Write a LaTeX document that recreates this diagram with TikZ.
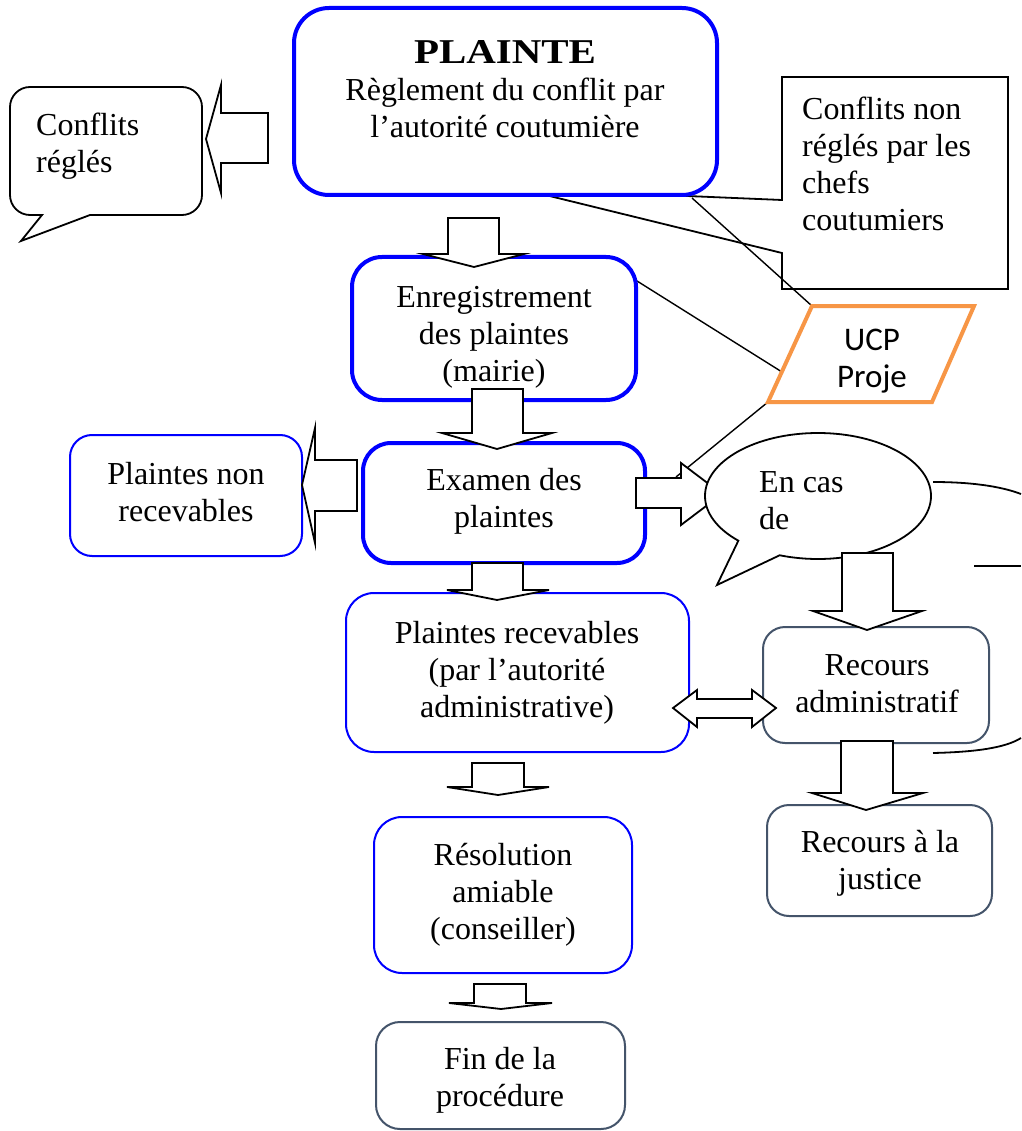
\documentclass[tikz,border=0pt]{standalone}
\usepackage{fontspec}
\setmainfont{Liberation Serif}
\newfontfamily\ucpfont{Carlito}
\usepackage{graphicx}
\usetikzlibrary{shapes.callouts}
\newcommand\mybody{\fontsize{32}{37}\selectfont}
\newcommand\myucp{\ucpfont\fontsize{33}{37}\selectfont}
\definecolor{boxblue}{RGB}{0,0,255}
\definecolor{slate}{RGB}{68,84,106}
\definecolor{ucporange}{RGB}{247,150,70}
\newcommand\vblockarrow[8]{\draw[blockarrow] (#1,#3) -- (#2,#3) -- (#2,#4) -- (#6,#4) -- (#7,#8) -- (#5,#4) -- (#1,#4) -- cycle;}
\newcommand\hblockarrow[8]{\draw[blockarrow] (#1,#2) -- (#4,#2) -- (#4,#5) -- (#7,#8) -- (#4,#6) -- (#4,#3) -- (#1,#3) -- cycle;}
\begin{document}
\begin{tikzpicture}[x=1pt,y=-1pt,
  thickblue/.style={draw=boxblue, line width=4pt, fill=white, rounded corners=#1, inner sep=0pt},
  thinblue/.style={draw=boxblue, line width=2pt, fill=white, rounded corners=#1, inner sep=0pt},
  slatebox/.style={draw=slate, line width=2pt, fill=white, rounded corners=#1, inner sep=0pt},
  blockarrow/.style={draw=black, line width=1.8pt, fill=white, line join=miter},
  plainline/.style={draw=black, line width=1.4pt},
  outline/.style={draw=black, line width=1.8pt},
  txt/.style={inner sep=0pt, anchor=north, align=center, font=\mybody},
  txtl/.style={inner sep=0pt, anchor=north west, align=left, font=\mybody}]
\useasboundingbox (0,0) rectangle (1021,1131);
\fill[white] (0,0) rectangle (1021,1131);

% callout "Conflits non reglés" (pointer tip hidden behind PLAINTE box)
\draw[outline, fill=white] (782,77) -- (1008,77) -- (1008,289) -- (782,289) -- (782,253) -- (521,189) -- (782,200) -- cycle;

% connector lines to UCP
\coordinate (ucpTL) at (812,306);
\coordinate (ucpTR) at (974,306);
\coordinate (ucpBR) at (932,402);
\coordinate (ucpBL) at (768,402);
\coordinate (ucpL) at (782,372);
\coordinate (plcorner) at (692,198);
\coordinate (enregR) at (637,281);
\coordinate (examR) at (676,477);
\draw[plainline] (plcorner) -- (ucpTL);
\draw[plainline] (enregR) -- (ucpL);
\draw[plainline] (ucpBL) -- (examR);
\draw[draw=ucporange, line width=4pt, fill=white, line join=miter] (ucpTL) -- (ucpTR) -- (ucpBR) -- (ucpBL) -- cycle;

% boxes
\node[thickblue=35pt, minimum width=423pt, minimum height=187pt] (plainte) at (505.5,101.5) {};
\node[thickblue=30pt, minimum width=284pt, minimum height=143pt] (enreg) at (494,328.5) {};
\node[thickblue=28pt, minimum width=282pt, minimum height=120pt] (examen) at (504,503) {};
\node[thinblue=22pt, minimum width=232pt, minimum height=121pt] (nonrec) at (186,495.5) {};
\node[thinblue=28pt, minimum width=343pt, minimum height=159pt] (plrec) at (517.5,672.5) {};
\node[thinblue=28pt, minimum width=258pt, minimum height=156pt] (resol) at (503,895) {};
\node[slatebox=24pt, minimum width=249pt, minimum height=107pt] (fin) at (500.5,1075.5) {};
\node[slatebox=22pt, minimum width=226pt, minimum height=116pt] (recadm) at (876,685) {};
\node[slatebox=22pt, minimum width=225pt, minimum height=111pt] (justice) at (879.5,860.5) {};

% callout "Conflits reglés"
\draw[outline, fill=white] (42,215) -- (21,241) -- (90,215) -- (182,215)
  .. controls (193,215) and (202,206) .. (202,195) -- (202,107)
  .. controls (202,96) and (193,87) .. (182,87) -- (30,87)
  .. controls (19,87) and (10,96) .. (10,107) -- (10,195)
  .. controls (10,206) and (19,215) .. (30,215) -- cycle;

% block arrows
\vblockarrow{448}{499}{218}{254}{423}{524}{474}{267}
\vblockarrow{472}{523}{389}{433}{442}{552}{497}{449}
\vblockarrow{472}{523}{563}{590}{447}{549}{497}{600}
\vblockarrow{472}{524}{763}{787}{447}{549}{498}{795}
\vblockarrow{474}{526}{984}{1003}{449}{552}{501}{1009}
\vblockarrow{841}{893}{741}{793}{812}{923}{866}{810}
\hblockarrow{268}{113}{163}{221}{85}{193}{206}{139}
\hblockarrow{357}{460}{511}{315}{428}{543}{302}{485}
\hblockarrow{636}{478}{508}{681}{463}{525}{722}{494}
\draw[blockarrow] (673,708) -- (697,690) -- (697,699) -- (752,699) -- (752,690) -- (776,708)
  -- (752,727) -- (752,718) -- (697,718) -- (697,727) -- cycle;

% ellipse callout "En cas de"
\node[ellipse callout, outline, fill=white, inner sep=0pt, minimum width=226pt, minimum height=126pt,
  callout absolute pointer={(717,585)}, callout pointer arc=25] (encas) at (818,496) {};
\vblockarrow{842}{893}{553}{611}{813}{922}{867}{630}

% partial outlines at the right edge
\draw[outline] (933,482) .. controls (970,482) and (1000,486) .. (1021,494);
\draw[outline] (974,566) -- (1021,566);
\draw[outline] (933,753) .. controls (975,752) and (1005,748) .. (1021,738);

% texts
\node[txt] (plainte-t) at (505,37.6) {\strut\resizebox{182pt}{23pt}{\bfseries PLAINTE}\\Règlement du conflit par\\l’autorité coutumière};
\node[txtl] (regles-t) at (36,109.6) {\strut Conflits\\réglés};
\node[txtl] (nonregles-t) at (802,93.1) {\strut Conflits non\\réglés par les\\chefs\\coutumiers};
\node[txt] (enreg-t) at (494,281.1) {\strut Enregistrement\\des plaintes\\(mairie)};
\node[txt, font=\myucp] (ucp) at (872,324.1) {\strut UCP\\Proje};
\node[txt] (examen-t) at (504,464.6) {\strut Examen des\\plaintes};
\node[txt] (nonrec-t) at (186,458.6) {\strut Plaintes non\\recevables};
\node[txtl] (encas-t) at (759,466.1) {\strut En cas\\de};
\node[txt] (plrec-t) at (517,617.1) {\strut Plaintes recevables\\(par l’autorité\\administrative)};
\node[txt] (recadm-t) at (877,649.1) {\strut Recours\\administratif};
\node[txt] (justice-t) at (880,826.1) {\strut Recours à la\\justice};
\node[txt] (resol-t) at (503,839.1) {\strut Résolution\\amiable\\(conseiller)};
\node[txt] (fin-t) at (500,1043.1) {\strut Fin de la\\procédure};
\end{tikzpicture}
\end{document}
